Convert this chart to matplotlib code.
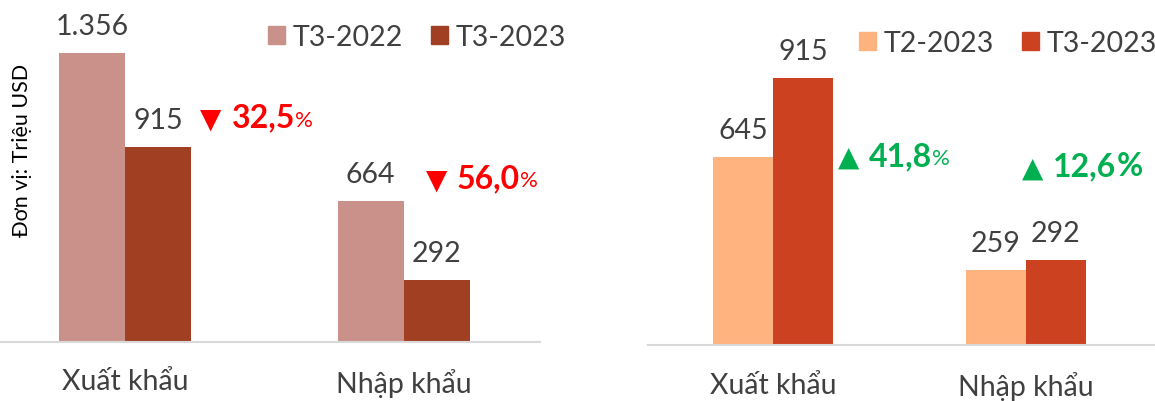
import matplotlib
matplotlib.use("Agg")
import numpy as np
import matplotlib.pyplot as plt
from matplotlib.patches import Patch

plt.rcParams['font.family'] = ['Lato', 'Noto Sans', 'DejaVu Sans']

categories = ["Xuất khẩu", "Nhập khẩu"]

# left: same month, year over year
left_series = ["T3-2022", "T3-2023"]
left_prev = [1356, 664]
left_curr = [915, 292]
left_change = ["32,5", "56,0"]

# right: month over month
right_series = ["T2-2023", "T3-2023"]
right_prev = [645, 259]
right_curr = [915, 292]
right_change = ["41,8", "12,6"]

left_colors = ["#C9918A", "#A03F22"]
right_colors = ["#FFB37F", "#CC411F"]
txt = "#404040"
red = "#FF0000"
green = "#00B050"
fs = 20.5


def fmt(v):
    return f"{v:,}".replace(",", ".")


def style_axes(ax):
    for s in ["top", "right", "left"]:
        ax.spines[s].set_visible(False)
    ax.spines["bottom"].set_color("#D9D9D9")
    ax.spines["bottom"].set_linewidth(1.5)
    ax.set_yticks([])
    ax.tick_params(axis="x", length=0, pad=19, labelsize=fs, labelcolor=txt)


def change_label(ax, x, y, arrow, num, color, small_pct=True):
    t1 = ax.text(x, y, arrow, fontsize=20, color=color, va="center", ha="left",
                 family="DejaVu Sans")
    t2 = ax.annotate(num, xy=(1, 0.5), xycoords=t1, xytext=(7, 1),
                     textcoords="offset points", fontsize=23, fontweight="bold",
                     color=color, va="center", ha="left")
    if small_pct:
        ax.annotate("%", xy=(1, 0.5), xycoords=t2, xytext=(0, -2),
                    textcoords="offset points", fontsize=16, color=color,
                    va="center", ha="left")
    else:
        ax.annotate("%", xy=(1, 0.5), xycoords=t2, xytext=(0, 0),
                    textcoords="offset points", fontsize=23, fontweight="bold",
                    color=color, va="center", ha="left")


def draw_panel(ax, prev, curr, colors, width):
    x = np.arange(len(categories))
    b1 = ax.bar(x - width / 2, prev, width, color=colors[0])
    b2 = ax.bar(x + width / 2, curr, width, color=colors[1])
    ax.bar_label(b1, labels=[fmt(v) for v in prev], padding=10, fontsize=fs, color=txt)
    ax.bar_label(b2, labels=[fmt(v) for v in curr], padding=10, fontsize=fs, color=txt)
    ax.set_xticks(x)
    ax.set_xticklabels(categories)
    style_axes(ax)


fig = plt.figure(figsize=(11.55, 4.02), dpi=100)

ax1 = fig.add_axes([0, 0.1468, 0.4675, 0.853])
draw_panel(ax1, left_prev, left_curr, left_colors, 0.237)
ax1.set_xlim(-0.45, 1.49)
ax1.set_ylim(0, 1610)
change_label(ax1, 0.27, 1050, "▼", left_change[0], red)
change_label(ax1, 1.08, 765, "▼", left_change[1], red)
ax1.legend([Patch(color=c) for c in left_colors], left_series, ncol=2,
           loc="center left", bbox_to_anchor=(268 / 1155, 1 - 38 / 402),
           bbox_transform=fig.transFigure, frameon=False, fontsize=fs,
           handlelength=0.6, handleheight=0.6, handletextpad=0.25,
           columnspacing=1.0, borderpad=0, borderaxespad=0, labelcolor=txt)

ax2 = fig.add_axes([648 / 1155, 0.139, 507 / 1155, 0.861])
draw_panel(ax2, right_prev, right_curr, right_colors, 0.237)
ax2.set_xlim(-0.494, 1.51)
ax2.set_ylim(0, 1186)
change_label(ax2, 0.257, 645, "▲", right_change[0], green)
change_label(ax2, 0.985, 610, "▲", right_change[1], green, small_pct=False)
ax2.legend([Patch(color=c) for c in right_colors], right_series, ncol=2,
           loc="center left", bbox_to_anchor=(859 / 1155, 1 - 44 / 402),
           bbox_transform=fig.transFigure, frameon=False, fontsize=fs,
           handlelength=0.6, handleheight=0.6, handletextpad=0.25,
           columnspacing=1.0, borderpad=0, borderaxespad=0, labelcolor=txt)

fig.text(22 / 1155, 1 - 150 / 402, "Đơn vị: Triệu USD", rotation=90,
         ha="center", va="center", fontsize=15.5, color="black")

fig.savefig("out.png", dpi=100)
